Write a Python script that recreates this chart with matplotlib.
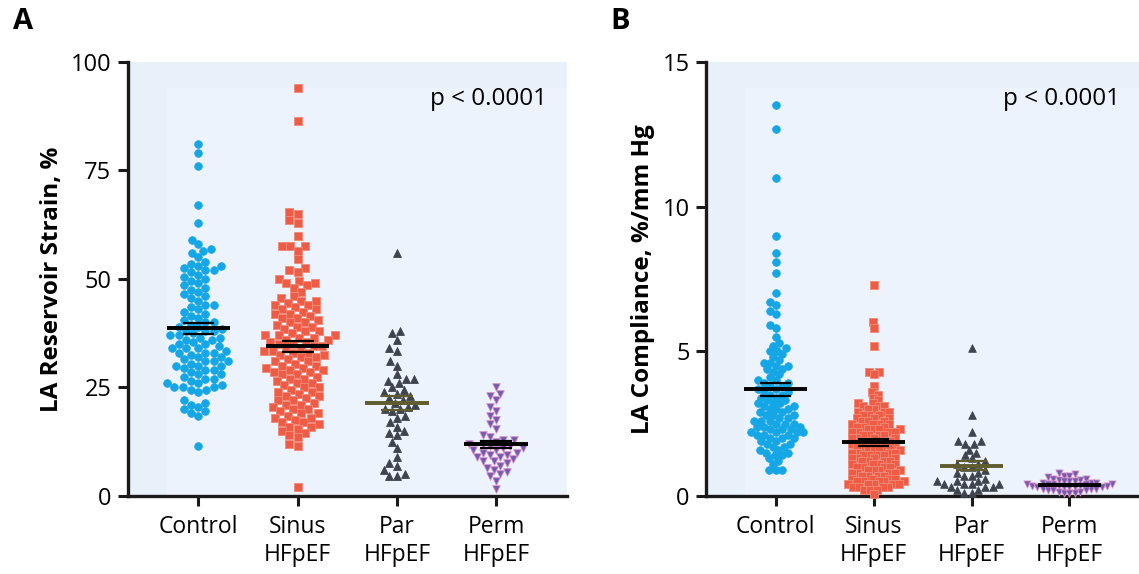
import numpy as np
import matplotlib.pyplot as plt
from matplotlib.patches import Rectangle

plt.rcParams["font.family"] = ["Open Sans", "DejaVu Sans"]

# ---- data ----
groups = ["Control", "Sinus\nHFpEF", "Par\nHFpEF", "Perm\nHFpEF"]

strain_control = [
    81, 79, 76, 67, 63, 59, 58, 57, 56.5, 56, 55, 54, 53.5, 53, 53, 52.5, 52, 52,
    51.5, 51, 50.5, 50, 49.5, 49, 48.5, 48, 47.5, 47, 46.5, 46, 45.5, 45, 44, 44,
    43.5, 43, 42.5, 42, 41.5, 41, 40.5, 40, 40, 39.5, 39, 39, 38.5, 38, 38, 38,
    37.5, 37, 37, 36.5, 36.5, 36, 36, 35.5, 35, 35, 34.5, 34, 34, 34, 33.5, 33,
    33, 33, 32.5, 32, 32, 31.5, 31, 31, 31, 30.5, 30, 30, 30, 29.5, 29, 29, 28.5,
    28, 28, 27.5, 27, 27, 26.5, 26, 26, 25.5, 25, 25, 25, 24.5, 24.5, 24, 22,
    21.5, 21, 20.5, 20, 19.5, 19, 18.5, 11.5,
]
strain_sinus = [
    94, 86.5, 65.5, 65, 63.5, 63, 60, 57.5, 57.5, 57.5, 56.5, 54.5, 52.5, 52,
    51.5, 50, 49.5, 49, 49, 48.5, 48, 47, 46, 45.5, 45, 45, 44.5, 44, 44, 43.5,
    43, 43, 42.5, 42, 42, 41.5, 41, 41, 40.5, 40, 40, 39.5, 39, 39, 38.5, 38, 38,
    37.5, 37, 37, 37, 36.5, 36.5, 36, 36, 35.5, 35.5, 35, 35, 34.5, 34.5, 34, 34,
    33.5, 33.5, 33, 33, 32.5, 32.5, 32, 32, 31.5, 31, 31, 30.5, 30, 30, 29.5,
    29.5, 29, 29, 28.5, 28.5, 28, 28, 27.5, 27, 27, 26.5, 26, 26, 25.5, 25, 25,
    24.5, 24, 24, 23.5, 23, 23, 22.5, 22, 22, 21.5, 21, 21, 20.5, 20, 20, 19.5,
    19, 19, 18.5, 18, 18, 17.5, 17, 17, 16.5, 16, 16, 15.5, 15, 14.5, 14, 13.5,
    12, 11.5, 2,
]
strain_par = [
    56, 38, 37.5, 36, 34, 33.5, 31, 30, 28, 27, 27, 26.5, 26, 25, 24.5, 24, 23.5,
    23, 22.5, 22, 21.5, 21, 20.5, 20, 20, 19.5, 18.5, 18, 17, 16, 15, 14.5, 14,
    12.5, 11, 9, 7.5, 7, 6, 5, 4.5, 4.5,
]
strain_perm = [
    25, 23.5, 23, 22, 20.5, 19.5, 18.5, 17.5, 16.5, 15.5, 14, 13.5, 13, 13, 12.5,
    12, 12, 11.5, 11.5, 11, 11, 10.5, 10.5, 10, 10, 9.5, 9.5, 9, 9, 8.5, 8, 8,
    7.5, 7, 6.5, 6, 5.5, 5, 4.5, 3.5, 1.5,
]

comp_control = [
    13.5, 12.7, 11.0, 9.0, 8.4, 8.1, 7.7, 7.0, 6.7, 6.6, 6.4, 6.3, 5.9, 5.8, 5.5,
    5.3, 5.2, 5.1, 5.0, 5.0, 4.9, 4.8, 4.7, 4.6, 4.6, 4.5, 4.5, 4.4, 4.4, 4.3,
    4.2, 4.1, 4.0, 4.0, 3.9, 3.9, 3.8, 3.8, 3.7, 3.7, 3.6, 3.6, 3.5, 3.5, 3.4,
    3.4, 3.3, 3.3, 3.2, 3.2, 3.2, 3.1, 3.1, 3.0, 3.0, 3.0, 2.9, 2.9, 2.8, 2.8,
    2.8, 2.7, 2.7, 2.6, 2.6, 2.6, 2.5, 2.5, 2.5, 2.4, 2.4, 2.4, 2.3, 2.3, 2.3,
    2.2, 2.2, 2.2, 2.2, 2.1, 2.1, 2.1, 2.0, 2.0, 2.0, 1.9, 1.9, 1.8, 1.8, 1.7,
    1.7, 1.6, 1.6, 1.5, 1.5, 1.4, 1.4, 1.3, 1.2, 1.1, 0.9, 0.9, 0.9,
]
comp_sinus = [
    7.3, 6.0, 5.8, 5.2, 4.3, 4.3, 4.2, 3.8, 3.6, 3.5, 3.4, 3.3, 3.2, 3.2, 3.1,
    3.1, 3.1, 3.0, 3.0, 2.9, 2.9, 2.9, 2.8, 2.8, 2.8, 2.7, 2.7, 2.7, 2.6, 2.6,
    2.6, 2.5, 2.5, 2.5, 2.5, 2.4, 2.4, 2.4, 2.3, 2.3, 2.3, 2.3, 2.2, 2.2, 2.2,
    2.2, 2.1, 2.1, 2.1, 2.1, 2.0, 2.0, 2.0, 2.0, 1.9, 1.9, 1.9, 1.9, 1.8, 1.8,
    1.8, 1.8, 1.7, 1.7, 1.7, 1.7, 1.6, 1.6, 1.6, 1.6, 1.5, 1.5, 1.5, 1.5, 1.4,
    1.4, 1.4, 1.4, 1.3, 1.3, 1.3, 1.3, 1.2, 1.2, 1.2, 1.2, 1.1, 1.1, 1.1, 1.1,
    1.0, 1.0, 1.0, 1.0, 0.9, 0.9, 0.9, 0.9, 0.8, 0.8, 0.8, 0.8, 0.7, 0.7, 0.7,
    0.7, 0.6, 0.6, 0.6, 0.6, 0.5, 0.5, 0.5, 0.5, 0.5, 0.4, 0.4, 0.4, 0.4, 0.4,
    0.3, 0.3, 0.3, 0.3, 0.2, 0.2, 0.2, 0.05,
]
comp_par = [
    5.1, 2.8, 2.2, 1.9, 1.9, 1.8, 1.8, 1.6, 1.5, 1.4, 1.3, 1.2, 1.1, 1.1, 1.0,
    1.0, 0.9, 0.8, 0.8, 0.7, 0.7, 0.6, 0.5, 0.5, 0.5, 0.4, 0.4, 0.4, 0.4, 0.3,
    0.3, 0.3, 0.2, 0.2, 0.1, 0.1,
]
comp_perm = [
    0.8, 0.75, 0.7, 0.7, 0.65, 0.6, 0.6, 0.55, 0.55, 0.5, 0.5, 0.5, 0.45, 0.45,
    0.45, 0.4, 0.4, 0.4, 0.4, 0.4, 0.35, 0.35, 0.35, 0.35, 0.3, 0.3, 0.3, 0.3,
    0.3, 0.25, 0.25, 0.25, 0.2, 0.2, 0.2, 0.15, 0.15, 0.1, 0.1, 0.1,
]

face_colors = ["#15a6e6", "#ee5c45", "#3e434e", "#7459ad"]
edge_colors = ["#15a6e6", "#f08a78", "#3e434e", "#d690c6"]
markers = ["o", "s", "^", "v"]
mean_colors = ["black", "black", "#5f5c2e", "black"]
bg = "#e8f0fa"


def swarm_offsets(values, ppu, d):
    """Simple beeswarm: pixel offsets so markers of diameter d don't overlap."""
    ys = np.asarray(values, dtype=float) * ppu
    order = np.argsort(ys)
    xs = np.zeros(len(ys))
    px_list, py_list = [], []
    for i in order:
        y = ys[i]
        near = []
        cands = [0.0]
        for px, py in zip(px_list, py_list):
            dy = abs(py - y)
            if dy < d:
                dx = np.sqrt(d * d - dy * dy)
                near.append((px, dx))
                cands += [px - dx, px + dx]
        cands.sort(key=abs)
        for c in cands:
            if all(abs(c - px) >= dx - 1e-6 for px, dx in near):
                xs[i] = c
                break
        px_list.append(xs[i])
        py_list.append(y)
    return xs


def draw_panel(ax, data, ymax, yticks, ylabel, dmin, sizes):
    ax.set_xlim(-0.71, 3.71)
    ax.set_ylim(0, ymax)
    ax.set_facecolor(bg)
    # faint inner lighter block
    ax.add_patch(Rectangle((0.09, 0), 0.91, 0.94, transform=ax.transAxes,
                           facecolor="#edf3fc", edgecolor="none", zorder=0))
    bbox = ax.get_window_extent()
    ppu_y = bbox.height / ymax
    ppu_x = bbox.width / 4.42
    for k, vals in enumerate(data):
        offs = swarm_offsets(vals, ppu_y, dmin[k]) / ppu_x
        ax.scatter(k + offs, vals, marker=markers[k], s=sizes[k],
                   facecolor=face_colors[k], edgecolor=edge_colors[k],
                   linewidths=0.6, zorder=3, clip_on=False)
        m = np.mean(vals)
        sem = np.std(vals, ddof=1) / np.sqrt(len(vals))
        ax.plot([k - 0.32, k + 0.32], [m, m], color=mean_colors[k], lw=2.8,
                zorder=5, solid_capstyle="butt")
        for e in (m - sem, m + sem):
            ax.plot([k - 0.16, k + 0.16], [e, e], color=mean_colors[k], lw=1.6,
                    zorder=5, solid_capstyle="butt")
    ax.set_xticks(range(4))
    ax.set_xticklabels(groups, fontsize=16.5, linespacing=1.2)
    ax.set_yticks(yticks)
    ax.set_yticklabels([str(t) for t in yticks], fontsize=17)
    ax.set_ylabel(ylabel, fontsize=17.5, fontweight="bold", labelpad=5)
    for s in ("top", "right"):
        ax.spines[s].set_visible(False)
    for s in ("left", "bottom"):
        ax.spines[s].set_linewidth(2.4)
        ax.spines[s].set_color("#1a1a1a")
    ax.tick_params(axis="both", direction="out", length=7, width=2.2,
                   color="#1a1a1a", pad=5)
    ax.tick_params(axis="x", pad=7)
    ax.text(0.955, 0.915, "p < 0.0001", transform=ax.transAxes, ha="right",
            va="center", fontsize=17.5)


fig = plt.figure(figsize=(11.39, 5.74), dpi=100)
ax1 = fig.add_axes([0.1124, 0.136, 0.385, 0.756])
ax2 = fig.add_axes([0.620, 0.136, 0.380, 0.756])

draw_panel(ax1, [strain_control, strain_sinus, strain_par, strain_perm],
           100, [0, 25, 50, 75, 100], "LA Reservoir Strain, %",
           [8.2, 8.6, 8.0, 7.5], [30, 30, 32, 30])
draw_panel(ax2, [comp_control, comp_sinus, comp_par, comp_perm],
           15, [0, 5, 10, 15], "LA Compliance, %/mm Hg",
           [6.6, 5.8, 7.4, 5.5], [30, 32, 30, 26])

fig.text(0.011, 0.962, "A", fontsize=21, fontweight="bold", va="center")
fig.text(0.536, 0.962, "B", fontsize=21, fontweight="bold", va="center")

fig.savefig("out.png", dpi=100)
